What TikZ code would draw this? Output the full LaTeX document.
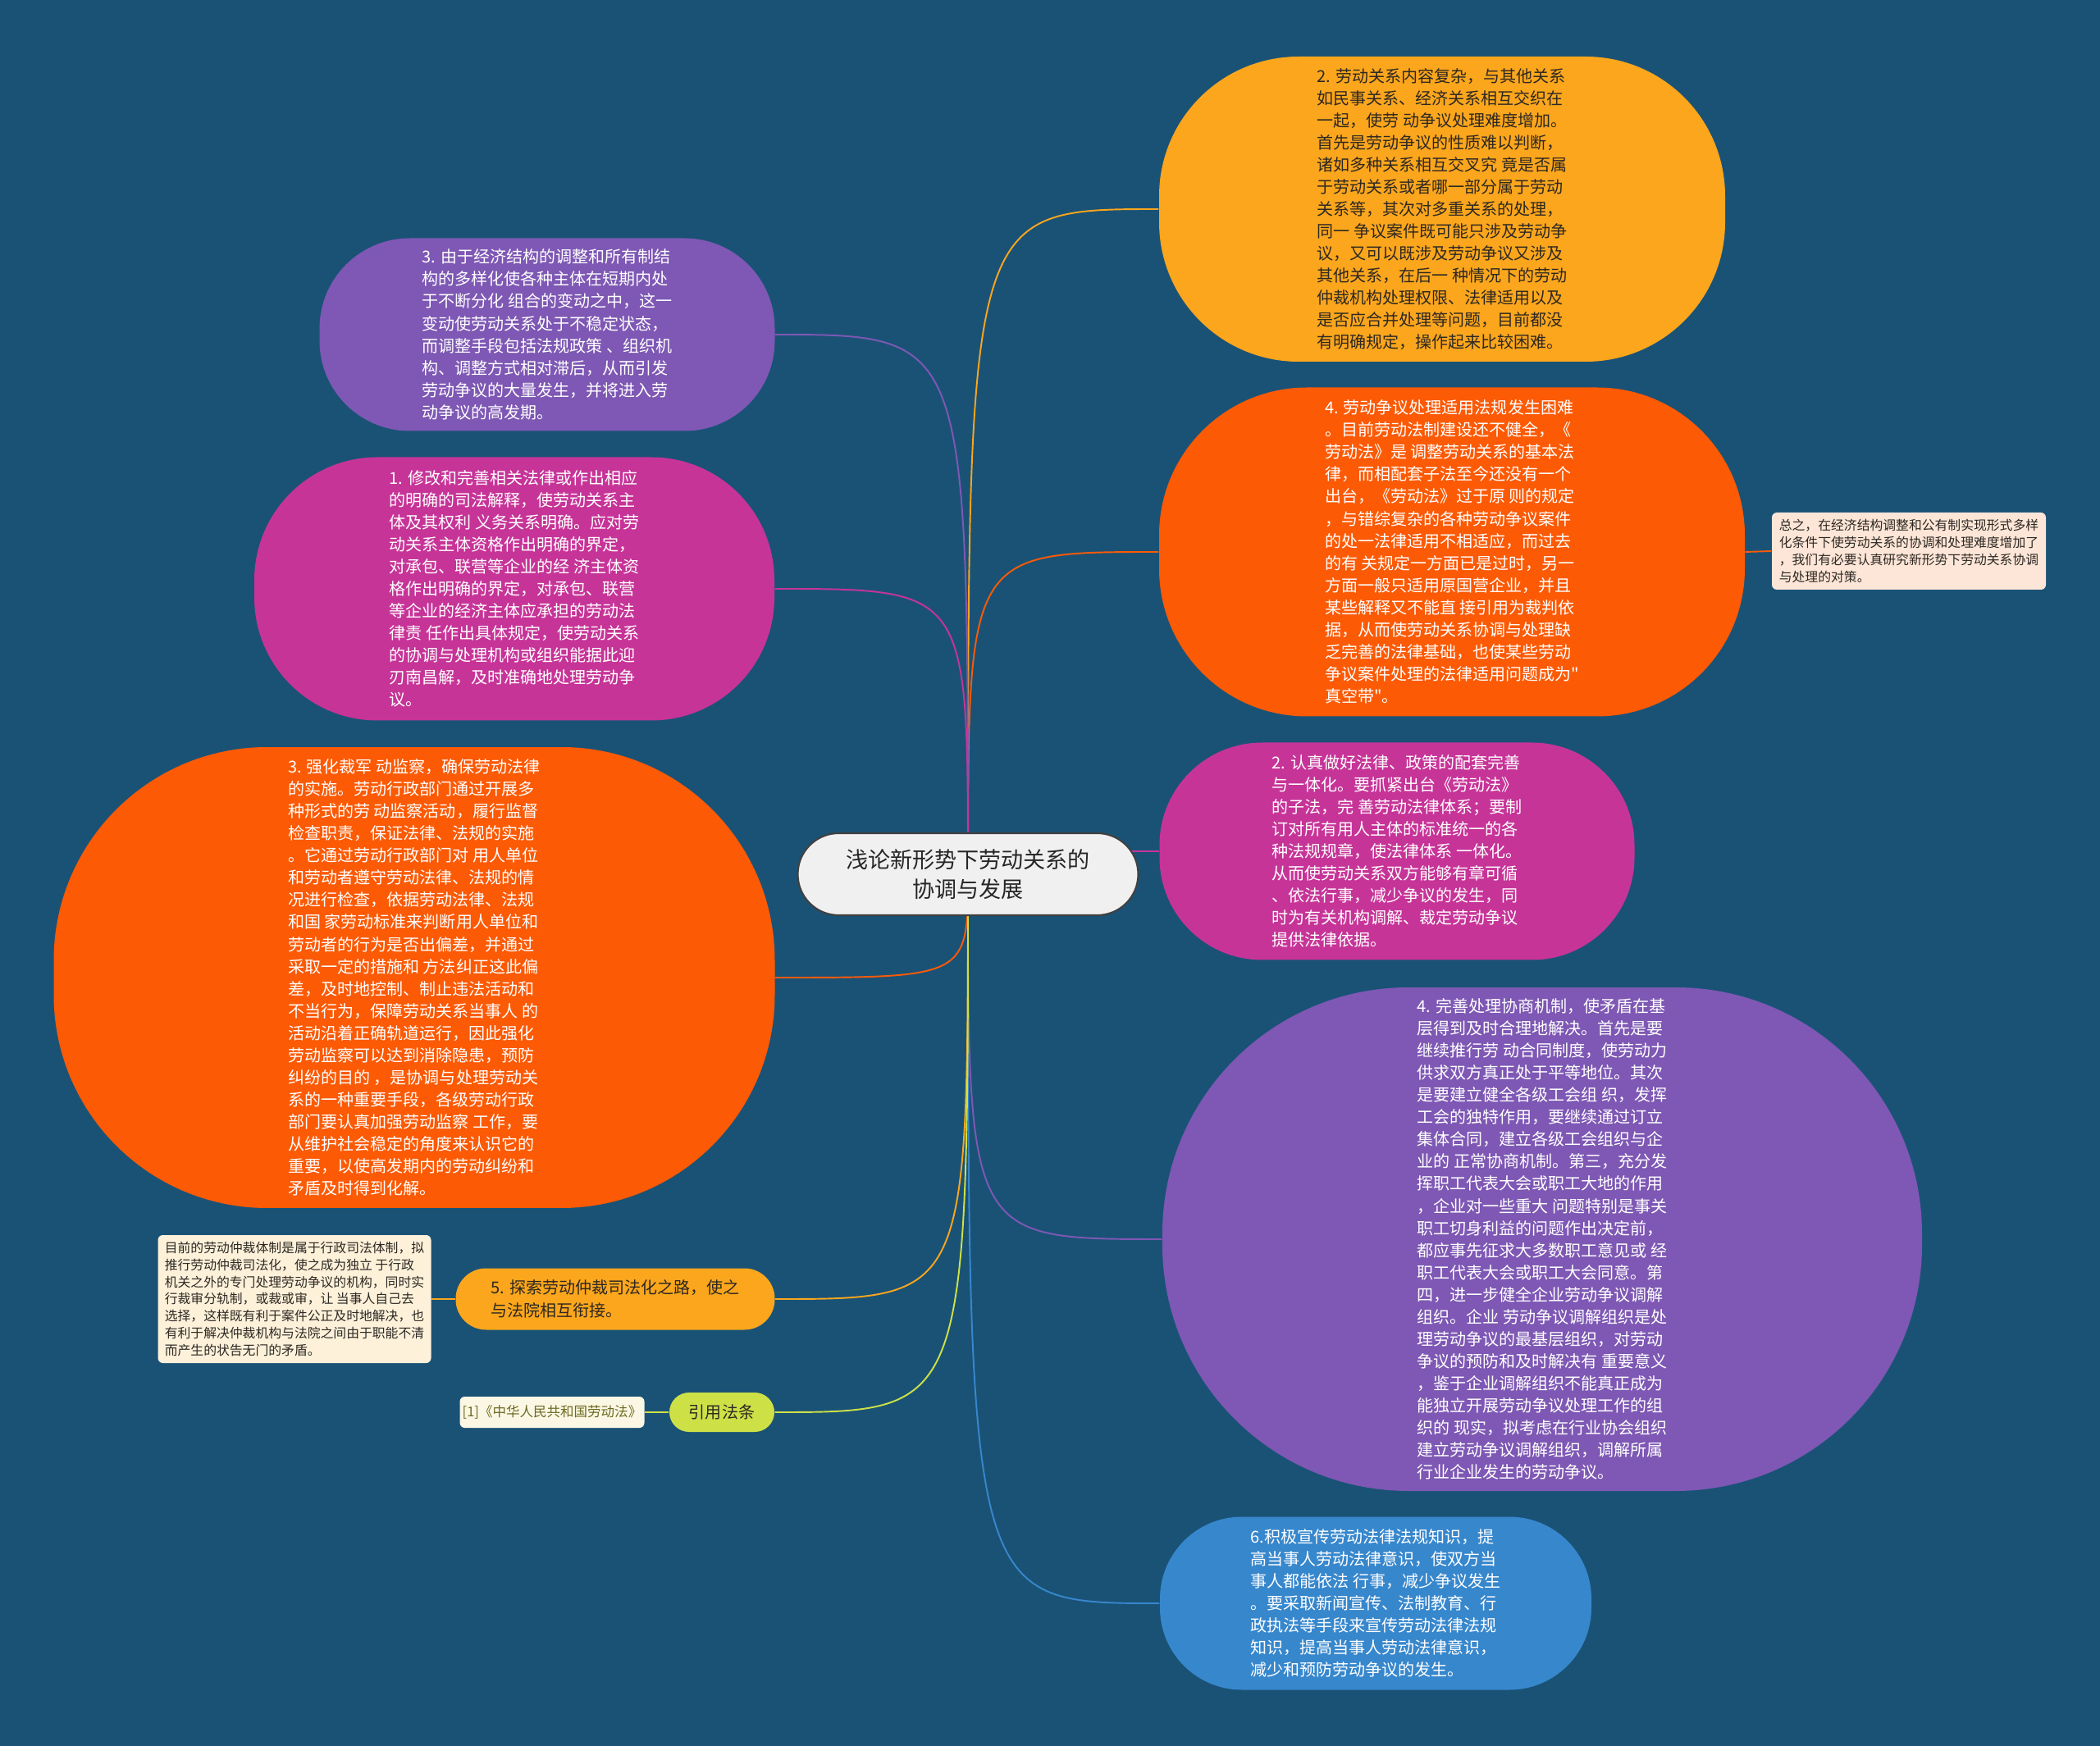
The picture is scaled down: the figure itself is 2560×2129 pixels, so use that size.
\documentclass[tikz,border=0pt]{standalone}
\usepackage{fontspec}
\newfontfamily\cjk{Noto Sans CJK SC}
\usepackage{tikz}
\usetikzlibrary{positioning,calc}
\usepackage{xcolor}
\definecolor{mapbg}{RGB}{26,82,118}
\definecolor{amber}{RGB}{251,166,28}
\definecolor{flame}{RGB}{252,90,5}
\definecolor{violet}{RGB}{126,88,180}
\definecolor{berry}{RGB}{199,52,152}
\definecolor{sky}{RGB}{55,135,205}
\definecolor{lime}{RGB}{205,225,70}
\definecolor{peach}{RGB}{253,230,215}
\definecolor{cream}{RGB}{254,241,218}
\definecolor{citebg}{RGB}{250,248,228}
\definecolor{inkdark}{RGB}{45,40,35}
\definecolor{rootbg}{RGB}{240,240,240}

\pgfdeclarelayer{bglayer}
\pgfdeclarelayer{linklayer}
\pgfsetlayers{bglayer,linklayer,main}

\tikzset{
  topic/.style={rectangle,inner sep=0pt,align=left,text=white,
    font=\cjk\fontsize{5.7}{7.7}\selectfont},
  notebox/.style={rectangle,rounded corners=0.6mm,inner sep=0pt,align=left,
    text=inkdark,font=\cjk\fontsize{4.5}{5.9}\selectfont},
  link/.style={line width=0.55pt},
}

\begin{document}
\begin{tikzpicture}[x=0.1mm,y=-0.1mm]
\useasboundingbox (0,0) rectangle (2560,2129);
\begin{pgfonlayer}{bglayer}
  \fill[mapbg] (0,0) rectangle (2560,2129);
\end{pgfonlayer}

% central topic
\node[rectangle,draw=black!75,line width=0.6pt,fill=rootbg,rounded corners=5mm,
  minimum width=41.5mm,minimum height=10mm,align=center,text=black!85,
  font=\cjk\fontsize{7.7}{10.2}\selectfont] (root) at (1180,1066)
  {浅论新形势下劳动关系的\\协调与发展};

% right side
\node[topic,fill=amber,text=inkdark,minimum width=69mm,minimum height=37.2mm,
  rounded corners=17mm] (tr) at (1758,255) {%
2. 劳动关系内容复杂，与其他关系\\
如民事关系、经济关系相互交织在\\
一起，使劳 动争议处理难度增加。\\
首先是劳动争议的性质难以判断，\\
诸如多种关系相互交叉究 竟是否属\\
于劳动关系或者哪一部分属于劳动\\
关系等，其次对多重关系的处理，\\
同一 争议案件既可能只涉及劳动争\\
议，又可以既涉及劳动争议又涉及\\
其他关系，在后一 种情况下的劳动\\
仲裁机构处理权限、法律适用以及\\
是否应合并处理等问题，目前都没\\
有明确规定，操作起来比较困难。};

\node[topic,fill=flame,minimum width=71.4mm,minimum height=40.1mm,
  rounded corners=18mm] (ro) at (1770,673) {%
4. 劳动争议处理适用法规发生困难\\
。目前劳动法制建设还不健全，《\\
劳动法》是 调整劳动关系的基本法\\
律，而相配套子法至今还没有一个\\
出台，《劳动法》过于原 则的规定\\
，与错综复杂的各种劳动争议案件\\
的处一法律适用不相适应，而过去\\
的有 关规定一方面已是过时，另一\\
方面一般只适用原国营企业，并且\\
某些解释又不能直 接引用为裁判依\\
据，从而使劳动关系协调与处理缺\\
乏完善的法律基础，也使某些劳动\\
争议案件处理的法律适用问题成为"\\
真空带"。};

\node[notebox,fill=peach,minimum width=33.4mm,minimum height=9.4mm] (rnote) at (2327,672) {%
总之，在经济结构调整和公有制实现形式多样\\
化条件下使劳动关系的协调和处理难度增加了\\
，我们有必要认真研究新形势下劳动关系协调\\
与处理的对策。};

\node[topic,fill=berry,minimum width=57.9mm,minimum height=26.5mm,
  rounded corners=12.5mm] (rm) at (1703,1038) {%
2. 认真做好法律、政策的配套完善\\
与一体化。要抓紧出台《劳动法》\\
的子法，完 善劳动法律体系；要制\\
订对所有用人主体的标准统一的各\\
种法规规章，使法律体系 一体化。\\
从而使劳动关系双方能够有章可循\\
、依法行事，减少争议的发生，同\\
时为有关机构调解、裁定劳动争议\\
提供法律依据。};

\node[topic,fill=violet,minimum width=92.6mm,minimum height=61.4mm,
  rounded corners=30mm] (rp) at (1880,1511) {%
4. 完善处理协商机制，使矛盾在基\\
层得到及时合理地解决。首先是要\\
继续推行劳 动合同制度，使劳动力\\
供求双方真正处于平等地位。其次\\
是要建立健全各级工会组 织，发挥\\
工会的独特作用，要继续通过订立\\
集体合同，建立各级工会组织与企\\
业的 正常协商机制。第三，充分发\\
挥职工代表大会或职工大地的作用\\
，企业对一些重大 问题特别是事关\\
职工切身利益的问题作出决定前，\\
都应事先征求大多数职工意见或 经\\
职工代表大会或职工大会同意。第\\
四，进一步健全企业劳动争议调解\\
组织。企业 劳动争议调解组织是处\\
理劳动争议的最基层组织，对劳动\\
争议的预防和及时解决有 重要意义\\
，鉴于企业调解组织不能真正成为\\
能独立开展劳动争议处理工作的组\\
织的 现实，拟考虑在行业协会组织\\
建立劳动争议调解组织，调解所属\\
行业企业发生的劳动争议。};

\node[topic,fill=sky,minimum width=52.6mm,minimum height=21.1mm,
  rounded corners=10mm] (bl) at (1677,1955) {%
6.积极宣传劳动法律法规知识，提\\
高当事人劳动法律意识，使双方当\\
事人都能依法 行事，减少争议发生\\
。要采取新闻宣传、法制教育、行\\
政执法等手段来宣传劳动法律法规\\
知识，提高当事人劳动法律意识，\\
减少和预防劳动争议的发生。};

% left side
\node[topic,fill=violet,minimum width=55.5mm,minimum height=23.5mm,
  rounded corners=11mm] (tl) at (667,408) {%
3. 由于经济结构的调整和所有制结\\
构的多样化使各种主体在短期内处\\
于不断分化 组合的变动之中，这一\\
变动使劳动关系处于不稳定状态，\\
而调整手段包括法规政策 、组织机\\
构、调整方式相对滞后，从而引发\\
劳动争议的大量发生，并将进入劳\\
动争议的高发期。};

\node[topic,fill=berry,minimum width=63.4mm,minimum height=32.1mm,
  rounded corners=15mm] (lm) at (627,718) {%
1. 修改和完善相关法律或作出相应\\
的明确的司法解释，使劳动关系主\\
体及其权利 义务关系明确。应对劳\\
动关系主体资格作出明确的界定，\\
对承包、联营等企业的经 济主体资\\
格作出明确的界定，对承包、联营\\
等企业的经济主体应承担的劳动法\\
律责 任作出具体规定，使劳动关系\\
的协调与处理机构或组织能据此迎\\
刃南昌解，及时准确地处理劳动争\\
议。};

\node[topic,fill=flame,minimum width=87.9mm,minimum height=56.2mm,
  rounded corners=26mm] (lo) at (505,1192) {%
3. 强化裁军 动监察，确保劳动法律\\
的实施。劳动行政部门通过开展多\\
种形式的劳 动监察活动，履行监督\\
检查职责，保证法律、法规的实施\\
。它通过劳动行政部门对 用人单位\\
和劳动者遵守劳动法律、法规的情\\
况进行检查，依据劳动法律、法规\\
和国 家劳动标准来判断用人单位和\\
劳动者的行为是否出偏差，并通过\\
采取一定的措施和 方法纠正这此偏\\
差，及时地控制、制止违法活动和\\
不当行为，保障劳动关系当事人 的\\
活动沿着正确轨道运行，因此强化\\
劳动监察可以达到消除隐患，预防\\
纠纷的目的 ，是协调与处理劳动关\\
系的一种重要手段，各级劳动行政\\
部门要认真加强劳动监察 工作，要\\
从维护社会稳定的角度来认识它的\\
重要，以使高发期内的劳动纠纷和\\
矛盾及时得到化解。};

\node[topic,fill=amber,text=inkdark,minimum width=38.9mm,minimum height=7.5mm,
  rounded corners=3.7mm,font=\cjk\fontsize{5.7}{7.9}\selectfont] (n5) at (750,1584) {%
5. 探索劳动仲裁司法化之路，使之\\
与法院相互衔接。};

\node[notebox,fill=cream,minimum width=33.3mm,minimum height=15.6mm] (lnote) at (359,1584) {%
目前的劳动仲裁体制是属于行政司法体制，拟\\
推行劳动仲裁司法化，使之成为独立 于行政\\
机关之外的专门处理劳动争议的机构，同时实\\
行裁审分轨制，或裁或审，让 当事人自己去\\
选择，这样既有利于案件公正及时地解决，也\\
有利于解决仲裁机构与法院之间由于职能不清\\
而产生的状告无门的矛盾。};

\node[topic,fill=lime,text=inkdark,minimum width=12.8mm,minimum height=4.8mm,
  rounded corners=2.4mm] (ref) at (880,1722) {引用法条};

\node[notebox,fill=citebg,text=olive!70!black,minimum width=22.5mm,minimum height=3.8mm,
  font=\cjk\fontsize{4.7}{5.9}\selectfont] (cite) at (673,1722) {[1]《中华人民共和国劳动法》};

% connectors
\begin{pgfonlayer}{linklayer}
\draw[link,amber] (root.center) .. controls (root.center |- tr.west) .. (tr.west);
\draw[link,flame] (root.center) .. controls (root.center |- ro.west) .. (ro.west);
\draw[link,berry] (root.center) .. controls (root.center |- rm.west) .. (rm.west);
\draw[link,violet] (root.center) .. controls (root.center |- rp.west) .. (rp.west);
\draw[link,sky] (root.center) .. controls (root.center |- bl.west) .. (bl.west);
\draw[link,violet] (root.center) .. controls (root.center |- tl.east) .. (tl.east);
\draw[link,berry] (root.center) .. controls (root.center |- lm.east) .. (lm.east);
\draw[link,flame] (root.center) .. controls (root.center |- lo.east) .. (lo.east);
\draw[link,amber] (root.center) .. controls (root.center |- n5.east) .. (n5.east);
\draw[link,lime] (root.center) .. controls (root.center |- ref.east) .. (ref.east);
\draw[link,flame] (ro.east) -- (rnote.west);
\draw[link,amber] (n5.west) -- (lnote.east);
\draw[link,lime] (ref.west) -- (cite.east);
\end{pgfonlayer}
\end{tikzpicture}
\end{document}
